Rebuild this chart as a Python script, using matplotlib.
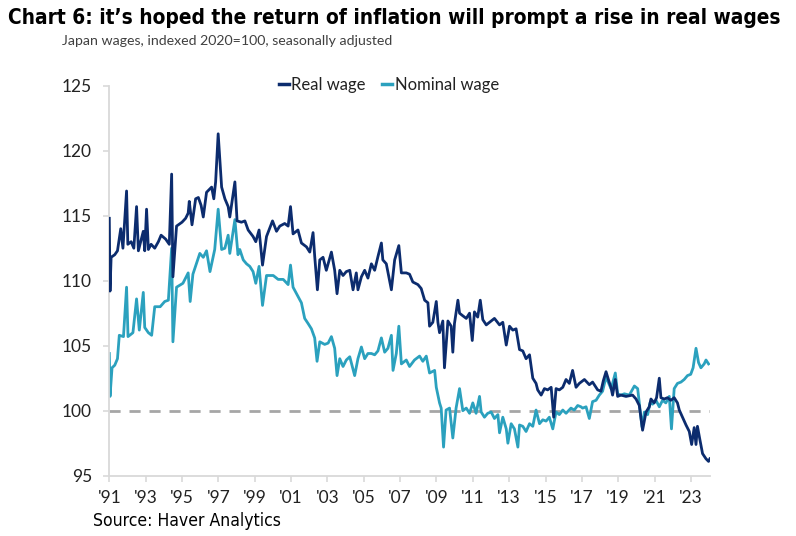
import matplotlib
matplotlib.use("Agg")
import matplotlib.pyplot as plt
from matplotlib.lines import Line2D
from matplotlib import font_manager as fm
import os

# ---------------- data ----------------
real_dates = [1991.00, 1991.04, 1991.10, 1991.30, 1991.45, 1991.63, 1991.75, 1991.95, 1992.02, 1992.20,
              1992.35, 1992.50, 1992.60, 1992.87, 1992.95, 1993.05, 1993.15, 1993.30, 1993.50, 1993.70,
              1993.85, 1994.10, 1994.30, 1994.43, 1994.50, 1994.70, 1995.00, 1995.20, 1995.34, 1995.40,
              1995.55, 1995.75, 1995.90, 1996.05, 1996.17, 1996.35, 1996.63, 1996.75, 1996.85, 1996.99,
              1997.18, 1997.36, 1997.54, 1997.63, 1997.91, 1998.03, 1998.27, 1998.46, 1998.64, 1998.91,
              1999.06, 1999.24, 1999.43, 1999.65, 1999.98, 2000.20, 2000.38, 2000.65, 2000.84, 2000.97,
              2001.11, 2001.38, 2001.57, 2001.85, 2002.03, 2002.21, 2002.30, 2002.45, 2002.58, 2002.76,
              2002.94, 2003.22, 2003.40, 2003.53, 2003.68, 2003.86, 2004.04, 2004.23, 2004.41, 2004.59,
              2004.68, 2004.87, 2005.05, 2005.23, 2005.42, 2005.60, 2005.78, 2005.97, 2006.05, 2006.24,
              2006.52, 2006.70, 2006.93, 2007.07, 2007.34, 2007.52, 2007.70, 2007.98, 2008.16, 2008.35,
              2008.53, 2008.62, 2008.80, 2008.99, 2009.08, 2009.17, 2009.35, 2009.44, 2009.63, 2009.81,
              2009.90, 2009.99, 2010.18, 2010.27, 2010.45, 2010.64, 2010.82, 2010.97, 2011.09, 2011.27,
              2011.41, 2011.55, 2011.74, 2012.01, 2012.19, 2012.47, 2012.65, 2012.84, 2013.02, 2013.20,
              2013.38, 2013.57, 2013.75, 2013.93, 2014.12, 2014.30, 2014.48, 2014.57, 2014.76, 2014.94,
              2015.12, 2015.31, 2015.45, 2015.58, 2015.76, 2015.95, 2016.13, 2016.31, 2016.49, 2016.68,
              2016.86, 2017.14, 2017.41, 2017.59, 2017.78, 2017.87, 2018.05, 2018.18, 2018.33, 2018.46,
              2018.60, 2018.69, 2018.84, 2018.97, 2019.15, 2019.43, 2019.79, 2019.98, 2020.16, 2020.34,
              2020.53, 2020.71, 2020.80, 2020.98, 2021.11, 2021.26, 2021.35, 2021.53, 2021.71, 2021.90,
              2022.08, 2022.26, 2022.36, 2022.54, 2022.73, 2022.91, 2023.04, 2023.18, 2023.28, 2023.36,
              2023.49, 2023.64, 2023.83, 2023.97, 2024.04]
real_wage = [114.8, 109.2, 111.8, 112.0, 112.3, 114.0, 112.5, 116.9, 112.8, 113.0,
             112.5, 115.7, 112.3, 113.8, 112.3, 115.5, 112.4, 112.8, 112.5, 113.0,
             113.5, 113.2, 112.8, 118.2, 110.3, 114.2, 114.5, 114.8, 115.2, 116.1,
             114.3, 116.3, 116.4, 115.8, 114.9, 116.8, 117.2, 116.3, 117.6, 121.3,
             117.2, 116.3, 115.7, 114.9, 117.6, 114.6, 114.5, 114.6, 113.9, 113.4,
             113.0, 113.9, 111.2, 113.4, 114.6, 113.8, 114.2, 114.4, 114.2, 115.7,
             113.6, 113.9, 112.9, 112.6, 112.2, 113.7, 111.9, 109.3, 111.6, 111.8,
             110.8, 112.2, 110.8, 109.0, 110.8, 110.4, 110.7, 110.8, 109.3, 110.6,
             109.3, 110.3, 110.8, 110.2, 111.3, 110.8, 111.85, 112.9, 111.6, 111.3,
             109.3, 111.6, 112.7, 110.6, 110.6, 110.5, 109.9, 109.7, 109.4, 108.5,
             108.3, 106.5, 106.8, 108.4, 106.8, 106.0, 106.9, 103.3, 106.9, 106.5,
             104.5, 106.7, 108.5, 107.5, 107.3, 107.1, 107.5, 105.4, 107.6, 107.2,
             108.5, 107.0, 106.6, 106.9, 107.1, 106.6, 106.8, 105.05, 106.5, 106.2,
             106.3, 104.7, 104.6, 104.0, 104.3, 102.5, 102.1, 101.6, 101.2, 101.7,
             101.6, 101.8, 99.5, 101.7, 101.6, 101.8, 102.4, 102.1, 103.1, 101.8,
             102.1, 102.4, 102.0, 102.2, 101.8, 101.6, 101.5, 102.3, 103.0, 102.4,
             101.8, 101.2, 102.4, 101.1, 101.2, 101.1, 101.2, 100.9, 100.4, 98.5,
             99.9, 100.3, 100.9, 100.6, 101.0, 102.5, 101.0, 100.9, 101.0, 100.8,
             101.0, 100.6, 100.05, 99.5, 98.9, 98.4, 97.4, 98.7, 97.4, 98.8,
             97.8, 96.7, 96.3, 96.1, 96.3]

nominal_dates = [1991.00, 1991.04, 1991.15, 1991.30, 1991.45, 1991.55, 1991.78, 1991.95, 1992.03, 1992.30,
                 1992.50, 1992.65, 1992.87, 1992.95, 1993.15, 1993.33, 1993.50, 1993.80, 1994.05, 1994.25,
                 1994.43, 1994.50, 1994.70, 1995.05, 1995.34, 1995.45, 1995.60, 1995.98, 1996.17, 1996.35,
                 1996.54, 1996.80, 1996.99, 1997.18, 1997.36, 1997.54, 1997.63, 1997.91, 1998.08, 1998.18,
                 1998.37, 1998.55, 1998.73, 1998.91, 1999.06, 1999.24, 1999.43, 1999.65, 2000.02, 2000.29,
                 2000.57, 2000.84, 2000.97, 2001.11, 2001.38, 2001.57, 2001.75, 2001.94, 2002.12, 2002.30,
                 2002.43, 2002.58, 2002.85, 2003.04, 2003.22, 2003.40, 2003.53, 2003.68, 2003.86, 2004.04,
                 2004.23, 2004.50, 2004.68, 2004.87, 2005.05, 2005.23, 2005.42, 2005.60, 2005.78, 2005.97,
                 2006.15, 2006.33, 2006.52, 2006.61, 2006.79, 2006.93, 2007.07, 2007.34, 2007.52, 2007.79,
                 2008.07, 2008.25, 2008.44, 2008.62, 2008.90, 2008.99, 2009.17, 2009.26, 2009.39, 2009.53,
                 2009.72, 2009.90, 2010.08, 2010.27, 2010.45, 2010.64, 2010.82, 2011.00, 2011.18, 2011.37,
                 2011.46, 2011.64, 2011.82, 2012.01, 2012.19, 2012.38, 2012.47, 2012.65, 2012.84, 2012.93,
                 2013.11, 2013.29, 2013.48, 2013.57, 2013.75, 2013.93, 2014.12, 2014.30, 2014.48, 2014.67,
                 2014.85, 2015.03, 2015.21, 2015.40, 2015.58, 2015.76, 2015.95, 2016.13, 2016.40, 2016.58,
                 2016.77, 2016.95, 2017.04, 2017.23, 2017.41, 2017.59, 2017.78, 2017.96, 2018.14, 2018.33,
                 2018.51, 2018.60, 2018.69, 2018.84, 2018.97, 2019.15, 2019.34, 2019.61, 2019.89, 2020.07,
                 2020.16, 2020.31, 2020.44, 2020.62, 2020.75, 2020.89, 2021.08, 2021.26, 2021.44, 2021.62,
                 2021.81, 2021.93, 2022.08, 2022.26, 2022.45, 2022.63, 2022.81, 2022.99, 2023.12, 2023.28,
                 2023.42, 2023.55, 2023.73, 2023.83, 2023.97]
nominal_wage = [104.4, 101.1, 103.3, 103.5, 104.0, 105.8, 105.7, 109.5, 105.7, 106.0,
                108.6, 106.2, 109.1, 106.4, 106.0, 105.8, 108.0, 108.0, 108.4, 108.5,
                112.5, 105.3, 109.5, 109.8, 110.6, 108.4, 110.5, 112.1, 111.8, 112.3,
                110.7, 112.4, 115.5, 112.4, 112.5, 113.5, 112.1, 114.7, 112.0, 112.4,
                111.6, 111.3, 111.1, 110.7, 109.8, 111.1, 108.1, 110.4, 110.4, 110.1,
                110.1, 109.7, 111.2, 109.5, 108.8, 108.3, 107.1, 106.7, 106.3, 105.6,
                103.8, 105.3, 105.1, 105.2, 105.7, 104.8, 102.7, 104.0, 103.4, 103.9,
                104.15, 102.7, 104.0, 104.9, 104.0, 104.4, 104.4, 104.3, 104.6, 105.6,
                104.5, 104.8, 105.8, 103.1, 104.4, 106.5, 103.6, 103.9, 103.4, 103.9,
                104.2, 103.8, 104.2, 102.9, 103.1, 101.8, 100.6, 100.2, 97.2, 100.05,
                100.2, 97.9, 100.2, 101.7, 100.0, 100.2, 99.8, 100.6, 99.8, 101.1,
                99.9, 99.5, 99.8, 99.9, 99.4, 99.7, 98.3, 99.5, 98.6, 97.5,
                99.0, 98.6, 97.2, 98.9, 98.8, 98.4, 99.0, 98.8, 100.05, 99.0,
                99.3, 99.2, 99.5, 98.6, 99.9, 99.7, 100.05, 99.8, 100.2, 100.05,
                100.4, 100.3, 100.2, 100.3, 99.4, 100.7, 100.8, 101.2, 101.5, 102.6,
                102.0, 101.7, 102.1, 102.9, 101.3, 101.2, 101.3, 101.2, 101.9, 101.7,
                100.6, 98.75, 99.9, 99.7, 100.6, 100.5, 100.8, 100.3, 100.8, 100.6,
                101.1, 98.6, 101.7, 102.1, 102.2, 102.4, 102.7, 102.8, 103.3, 104.8,
                103.7, 103.3, 103.6, 103.9, 103.6]

y_ticks = [95, 100, 105, 110, 115, 120, 125]
x_tick_years = list(range(1991, 2024, 2))
x_tick_labels = ["'%02d" % (y % 100) for y in x_tick_years]
reference_level = 100
series_names = ["Real wage", "Nominal wage"]

title = "Chart 6: it\u2019s hoped the return of inflation will prompt a rise in real wages"
subtitle = "Japan wages, indexed 2020=100, seasonally adjusted"
source = "Source: Haver Analytics"

# ---------------- font choice: prefer a narrow face for title/source ----------------
def pick_narrow(weight):
    cands = [("Liberation Sans Narrow", "normal"), ("DejaVu Sans", "condensed"),
             ("Noto Sans", "condensed"), ("Open Sans", "condensed"), ("Roboto", "condensed")]
    for fam, stretch in cands:
        try:
            fp = fm.FontProperties(family=fam, stretch=stretch, weight=weight)
            path = fm.findfont(fp, fallback_to_default=False)
            name = os.path.basename(path).lower()
            if "narrow" in name or "condensed" in name or "cond" in name:
                return fp
        except Exception:
            pass
    return fm.FontProperties(family=["Open Sans", "DejaVu Sans"], weight=weight)

title_fp = pick_narrow("bold")
src_fp = pick_narrow("normal")

# ---------------- style ----------------
REAL_C = "#0C2C6E"
NOM_C = "#2BA1BE"
GRID_C = "#D9D9D9"
TXT_C = "#222222"

W, H, DPI = 796, 536, 100
fig = plt.figure(figsize=(W / DPI, H / DPI), dpi=DPI)
fig.patch.set_facecolor("white")

left, right, bottom, top = 109.3, 710, 475.7, 85.7
ax = fig.add_axes([left / W, 1 - bottom / H, (right - left) / W, (bottom - top) / H])

ax.axhline(reference_level, color="#A6A6A6", lw=2.0, ls=(0, (4, 3.2)), zorder=1)
ax.plot(nominal_dates, nominal_wage, color=NOM_C, lw=2.0, solid_joinstyle="round", zorder=2)
ax.plot(real_dates, real_wage, color=REAL_C, lw=2.0, solid_joinstyle="round", zorder=3)

ax.set_xlim(1991, 2024.05)
ax.set_ylim(95, 125)
ax.set_yticks(y_ticks)
ax.set_xticks(x_tick_years)
ax.set_xticklabels(x_tick_labels)

for s in ["top", "right"]:
    ax.spines[s].set_visible(False)
for s in ["left", "bottom"]:
    ax.spines[s].set_color(GRID_C)
    ax.spines[s].set_linewidth(1.3)

lab_font = ["Lato", "DejaVu Sans"]
ax.tick_params(axis="y", length=4.5, width=1.2, color=GRID_C, pad=8, labelsize=12.5, labelcolor=TXT_C)
ax.tick_params(axis="x", length=4.5, width=1.2, color=GRID_C, pad=6, labelsize=12.5, labelcolor=TXT_C)
for lab in ax.get_xticklabels() + ax.get_yticklabels():
    lab.set_family(lab_font)

handles = [Line2D([], [], color=REAL_C, lw=2.5), Line2D([], [], color=NOM_C, lw=2.5)]
leg = fig.legend(handles, series_names, loc="center", bbox_to_anchor=(389 / W, 1 - 85 / H),
                 ncol=2, frameon=False, handlelength=0.6, handletextpad=0.15, columnspacing=1.0,
                 prop={"family": lab_font, "size": 12})
for t in leg.get_texts():
    t.set_color(TXT_C)

t_title = fig.text(8 / W, 1 - 18 / H, title, fontproperties=title_fp, color="black",
                   va="center", ha="left")
t_title.set_fontsize(17)
t_sub = fig.text(62 / W, 1 - 41 / H, subtitle, fontsize=9.5, family=lab_font,
                 color="#404040", va="center", ha="left")
t_src = fig.text(93 / W, 1 - 521 / H, source, fontproperties=src_fp, color="black",
                 va="center", ha="left")
t_src.set_fontsize(12)

# fit text widths to the reference
fig.canvas.draw()
r = fig.canvas.get_renderer()
for t, target in [(t_title, 772), (t_sub, 331), (t_src, 188)]:
    w = t.get_window_extent(r).width
    t.set_fontsize(t.get_fontsize() * target / w)

fig.savefig("out.png", dpi=DPI, facecolor="white")
